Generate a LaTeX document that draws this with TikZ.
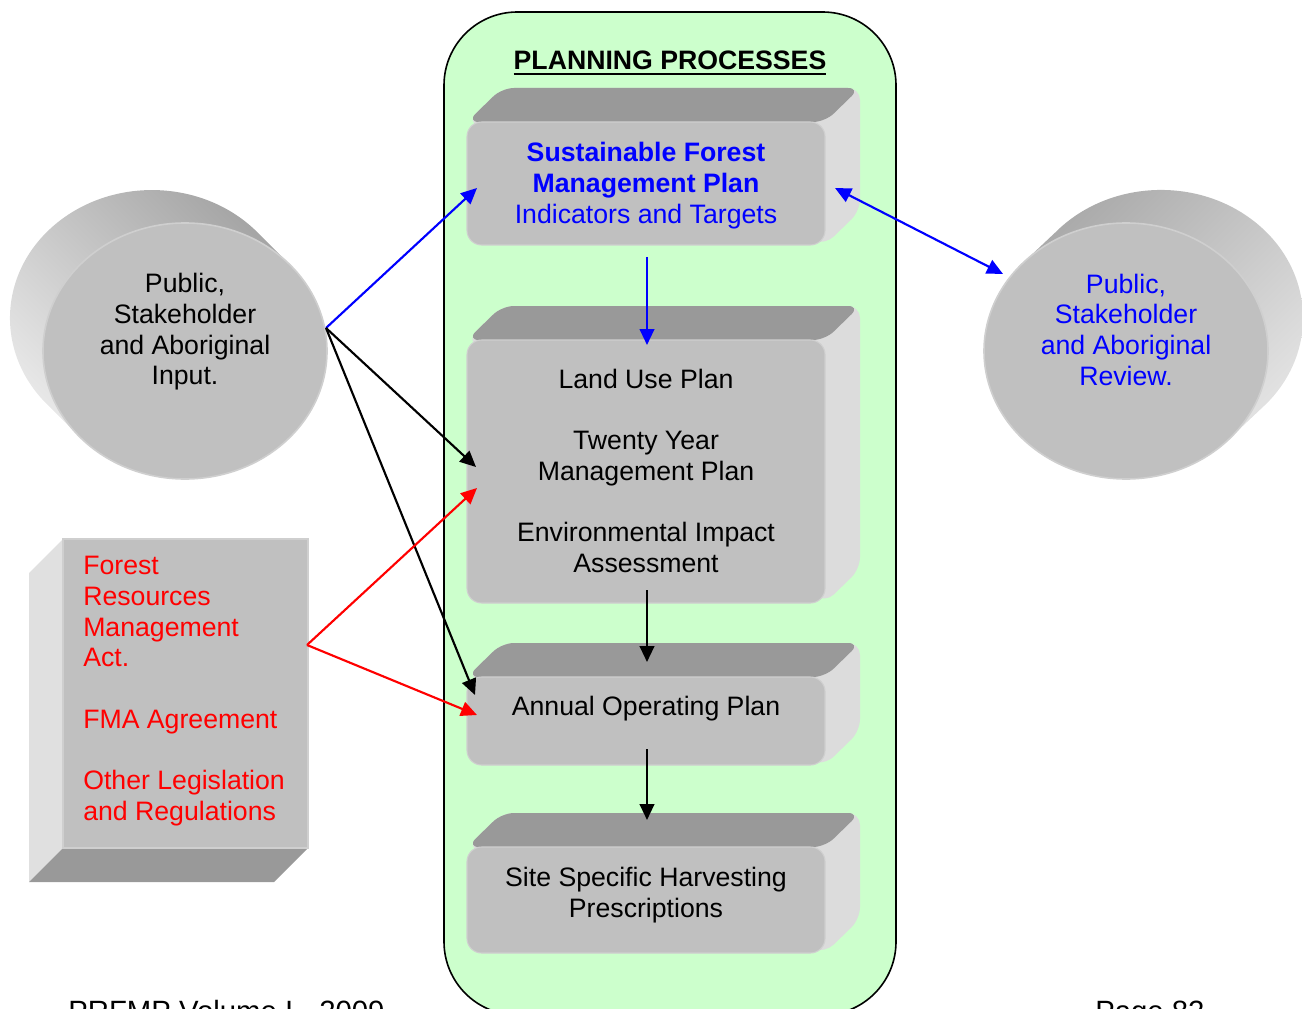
\documentclass[tikz,border=0pt]{standalone}
\usepackage{fontspec}
\setmainfont{Liberation Sans}
\usetikzlibrary{arrows.meta}
\definecolor{bgreen}{HTML}{CCFFCC}
\definecolor{frontgray}{HTML}{C0C0C0}
\definecolor{edgegray}{HTML}{CFCFCF}
\definecolor{topgray}{HTML}{999999}
\definecolor{sidegray}{HTML}{DCDCDC}
\definecolor{lsidegray}{HTML}{E0E0E0}
\definecolor{cyldark}{HTML}{A4A4A4}
\definecolor{cyllight}{HTML}{E8E8E8}
\definecolor{myblue}{HTML}{0000FF}
\definecolor{myred}{HTML}{FF0000}
\newcommand\thickul[1]{\setbox0\hbox{#1}\rlap{\rule[-4.1pt]{\wd0}{1.5pt}}\box0}
\newcommand\tdbox[4]{%
  \fill[sidegray, rounded corners=9pt] (#1,#2) -- (#1+35,#2-34) -- (#3+35,#2-34) -- (#3+35,#4-34) -- (#3,#4) -- cycle;
  \fill[topgray, rounded corners=9pt] (#1,#2) -- (#1+35,#2-34) -- (#3+35,#2-34) -- (#3,#2) -- cycle;
  \filldraw[fill=frontgray, draw=edgegray, line width=0.8pt, rounded corners=11pt] (#1,#2) rectangle (#3,#4);
}
\begin{document}
\begin{tikzpicture}[x=0.75pt,y=-0.75pt,
  txt/.style={font=\fontsize{20}{23}\selectfont, align=center, inner sep=0pt},
  arr/.style={line width=1.6pt, -{Triangle[length=12pt,width=11pt]}},
  cylface/.style={fill=frontgray, draw=edgegray, line width=1.2pt}]
\useasboundingbox (0,0) rectangle (1302,1009);
\clip (0,0) rectangle (1302,1009);

% container
\draw[line width=1.2pt, fill=bgreen, rounded corners=55pt] (444,12) rectangle (896,1015);
\node[txt, font=\fontsize{20}{23}\selectfont\bfseries, anchor=base] (title) at (670,69.5) {\thickul{PLANNING PROCESSES}};

% 3D boxes
\tdbox{467}{122}{825}{245}
\tdbox{467}{340}{825}{603}
\tdbox{467}{677}{825}{765}
\tdbox{467}{847}{825}{953}

\node[txt, text=myblue] (sfmp) at (646,185.5) {\textbf{Sustainable Forest}\\\textbf{Management Plan}\\Indicators and Targets};
\node[txt] (lup) at (646,470.5) {Land Use Plan\\[23pt]Twenty Year\\Management Plan\\[23pt]Environmental Impact\\Assessment};
\node[txt, anchor=base] (aop) at (646,715.5) {Annual Operating Plan};
\node[txt] (sshp) at (646,895) {Site Specific Harvesting\\Prescriptions};

% left cylinder
\shade[top color=cyldark, bottom color=cyllight, shading angle=-45]
  (290.5,265.4) -- ++(-33,-33) arc[start angle=-42, end angle=-222, x radius=142, y radius=128]
  -- ++(33,33) arc[start angle=138, end angle=318, x radius=142, y radius=128] -- cycle;
\path[cylface] (185,351) ellipse [x radius=142, y radius=128];
\node[txt] (inp) at (185,332) {Public,\\Stakeholder\\and Aboriginal\\Input.};

% right cylinder
\shade[top color=cyldark, bottom color=cyllight, shading angle=45]
  (1231.5,436.6) -- ++(35,-33) arc[start angle=42, end angle=-138, x radius=142, y radius=128]
  -- ++(-35,33) arc[start angle=-138, end angle=-318, x radius=142, y radius=128] -- cycle;
\path[cylface] (1126,351) ellipse [x radius=142, y radius=128];
\node[txt, text=myblue] (rev) at (1126,329.5) {Public,\\Stakeholder\\and Aboriginal\\Review.};

% legislation box
\fill[lsidegray] (63,539) -- (29,573) -- (29,882) -- (63,848) -- cycle;
\fill[topgray] (29,882) -- (274,882) -- (308,848) -- (63,848) -- cycle;
\filldraw[fill=frontgray, draw=edgegray, line width=0.8pt] (63,539) rectangle (308,848);
\node[txt, align=left, anchor=west, text=myred] (leg) at (83,691) {Forest\\Resources\\Management\\Act.\\[23pt]FMA Agreement\\[23pt]Other Legislation\\and Regulations};

% footer (cut off by the page edge, as in the original)
\node[font=\fontsize{22}{25}\selectfont, anchor=base west, inner sep=0pt] (foot1) at (68,1021) {PRFMP Volume I - 2009};
\node[font=\fontsize{22}{25}\selectfont, anchor=base west, inner sep=0pt] (foot2) at (1095,1021) {Page 82};

% connection points
\coordinate (inpE) at (326,328);
\coordinate (legE) at (307,645);
\coordinate (sfmpW) at (477,188);
\coordinate (sfmpE) at (835,188);
\coordinate (sfmpS) at (647,257);
\coordinate (revW) at (1003,274);
\coordinate (lupN) at (647,345);
\coordinate (lupW1) at (476,467);
\coordinate (lupW2) at (477,488);
\coordinate (lupS) at (647,590);
\coordinate (aopN) at (647,662);
\coordinate (aopW1) at (475,695);
\coordinate (aopW2) at (477,715);
\coordinate (aopS) at (647,749);
\coordinate (sshpN) at (647,820);

% arrows
\draw[arr, myblue] (inpE) -- (sfmpW);
\draw[arr] (inpE) -- (lupW1);
\draw[arr] (inpE) -- (aopW1);
\draw[arr, myred] (legE) -- (lupW2);
\draw[arr, myred] (legE) -- (aopW2);
\draw[arr, myblue, {Triangle[length=12pt,width=11pt]}-{Triangle[length=12pt,width=11pt]}] (sfmpE) -- (revW);
\draw[arr, myblue] (sfmpS) -- (lupN);
\draw[arr] (lupS) -- (aopN);
\draw[arr] (aopS) -- (sshpN);
\end{tikzpicture}
\end{document}
